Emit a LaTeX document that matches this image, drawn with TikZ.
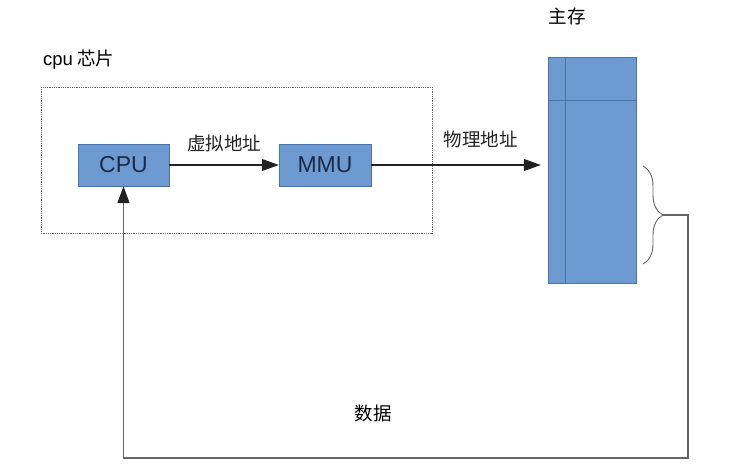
\documentclass[tikz,border=0pt]{standalone}
\usepackage{fontspec}
\setmainfont{Liberation Sans}
\newfontfamily\cjk{Noto Sans CJK SC}
\usepackage{tikz}
\usetikzlibrary{
  positioning,
  calc,
  arrows.meta,
  decorations.pathreplacing
}
\definecolor{boxfill}{HTML}{6D9BD1}
\definecolor{boxline}{HTML}{4A73A8}
\definecolor{boxtext}{HTML}{1C2A48}
\definecolor{wire}{HTML}{222222}
\definecolor{wiregray}{HTML}{666666}
\tikzstyle{unit}=[draw=boxline, fill=boxfill, text=boxtext, minimum height=42pt, minimum width=91pt, inner sep=0pt, font=\fontsize{23}{23}\selectfont]
\tikzstyle{label}=[font=\cjk\fontsize{18.5}{18.5}\selectfont, inner sep=0pt]
\tikzstyle{arrow}=[-{Triangle[length=17pt, width=12pt, color=wire]}, wire, line width=1.2pt]

\begin{document}
\begin{tikzpicture}[x=1pt, y=-1pt]
    \useasboundingbox (0,0) rectangle (748,465);

    % cpu 芯片(点線の枠)
    \draw[wiregray, densely dotted, line width=0.8pt] (41,87) rectangle (432,233);
    \node[label, anchor=west] (chip) at (43,60) {{\fontspec{Liberation Sans}cpu} 芯片};

    % CPU と MMU
    \node[unit] (cpu) at (123.5,165) {CPU};
    \node[unit, minimum width=92pt] (mmu) at (325,165) {MMU};

    % 主存
    \node[draw=boxline, fill=boxfill, minimum width=88pt, minimum height=226pt, inner sep=0pt] (mem) at (592,170) {};
    \draw[boxline, line width=0.8pt] (565,0 |- mem.north) -- (565,0 |- mem.south);
    \draw[boxline, line width=0.8pt] (mem.west |- 0,100) -- (mem.east |- 0,100);
    \node[label] (memlabel) at (567,16) {主存};

    % 矢印
    \draw[arrow] (cpu.east) -- (mmu.west)
      node[label, midway, above=12pt] (vaddr) {虚拟地址};
    \draw[arrow, shorten >=7pt] (mmu.east) -- (mmu.east -| mem.west)
      node[label, pos=0.62, above=16pt] (paddr) {物理地址};

    % 括弧とデータの戻り線
    \draw[wiregray, line width=0.9pt, decorate, decoration={brace, amplitude=20pt}]
      (643,166) -- (643,264);
    \coordinate (brtip) at (662,215);
    \coordinate (ret) at (688,458);
    \draw[arrow, wiregray] (brtip) -| (ret) -| (cpu.south);

    % ラベル
    \node[label] (data) at (373,413) {数据};
  \end{tikzpicture}
\end{document}
